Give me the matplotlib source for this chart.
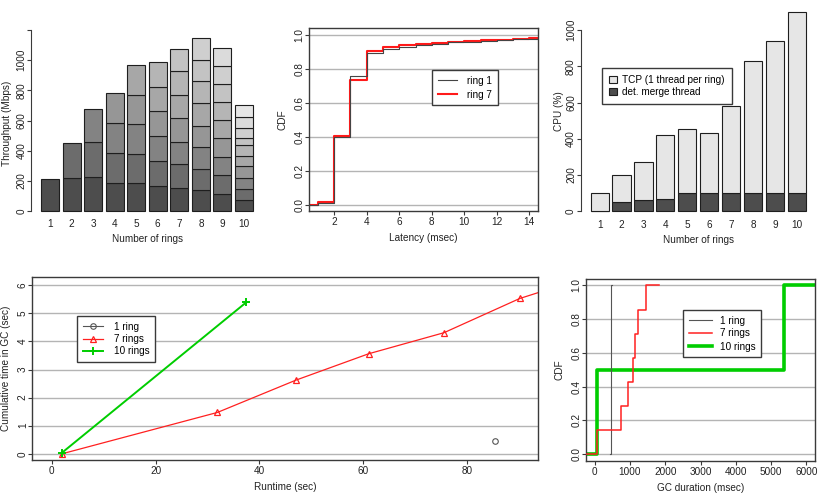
import matplotlib
matplotlib.use('Agg')
import matplotlib.pyplot as plt
from matplotlib.lines import Line2D
from matplotlib.patches import Patch
import numpy as np

plt.rcParams['font.family'] = ['Liberation Sans', 'DejaVu Sans']
plt.rcParams['font.size'] = 7.2

# ---------------- data ----------------
rings = [1, 2, 3, 4, 5, 6, 7, 8, 9, 10]
ring_labels = [str(r) for r in rings]

# throughput (Mbps) contributed by each ring, stacked bottom-up
throughput_per_ring = [
    [214],
    [222, 228],
    [229, 232, 214],
    [187, 201, 194, 203],
    [189, 192, 195, 196, 194],
    [167, 164, 167, 164, 163, 165],
    [154, 157, 146, 159, 152, 158, 148],
    [139, 141, 142, 145, 149, 143, 143, 144],
    [117, 121, 123, 122, 120, 120, 119, 122, 115],
    [72, 74, 72, 79, 70, 70, 46, 71, 70, 78],
]
segment_colors = ['#4D4D4D', '#6C6C6C', '#838383', '#969696', '#A7A7A7',
                  '#B5B5B5', '#C3C3C3', '#CFCFCF', '#DBDBDB', '#E6E6E6']

# latency CDF
latency_ms = [1, 2, 3, 4, 5, 6, 7, 8, 9, 10, 11, 12, 13, 14]
cdf_ring1 = [0.010, 0.395, 0.760, 0.890, 0.918, 0.930, 0.940, 0.948,
             0.955, 0.960, 0.966, 0.971, 0.975, 0.978]
cdf_ring7 = [0.013, 0.405, 0.735, 0.906, 0.929, 0.940, 0.946, 0.952,
             0.957, 0.962, 0.967, 0.972, 0.976, 0.979]

# CPU usage (%)
cpu_merge = [0, 50, 61, 70, 99, 100, 100, 100, 100, 100]
cpu_tcp = [103, 150, 213, 353, 357, 334, 479, 731, 837, 997]

# cumulative GC time vs runtime
gc1_runtime = [85.3]
gc1_cum = [0.46]
gc7_runtime = [2.05, 31.9, 47.0, 61.0, 75.5, 90.1, 108.6]
gc7_cum = [0.0, 1.47, 2.62, 3.56, 4.31, 5.53, 6.62]
gc10_runtime = [1.92, 37.5]
gc10_cum = [0.025, 5.40]

# GC durations (msec)
gcdur_1 = [463]
gcdur_7 = [57, 746, 935, 1087, 1143, 1219, 1465]
gcdur_10 = [57, 5377]

# ---------------- layout ----------------
W, H = 830, 498
fig = plt.figure(figsize=(W / 100, H / 100), dpi=100)


def add_axes_px(x0, y0, x1, y1):
    ax = fig.add_axes([x0 / W, 1 - y1 / H, (x1 - x0) / W, (y1 - y0) / H])
    ax._wpx = x1 - x0
    return ax


BOX = '#3a3a3a'
GRID = '#b4b4b4'
TXT = '#222222'


def style_ticks(ax):
    ax.tick_params(direction='out', length=2.9, width=0.8, color=BOX,
                   labelcolor=TXT, pad=1.5)
    ax.tick_params(axis='y', pad=0.3)
    for lab in ax.get_yticklabels():
        lab.set_rotation(90)
        lab.set_va('center')


def ylabel(ax, text, off_px):
    ax.set_ylabel(text, color=TXT)
    ax.yaxis.set_label_coords(-off_px / ax._wpx, 0.5)
    ax.yaxis.label.set_va('center')


def box(ax):
    for s in ax.spines.values():
        s.set_color(BOX)
        s.set_linewidth(1.0)


def legend(ax, handles, labels, x_px, y_px, **kw):
    leg = ax.legend(handles, labels, loc='upper left',
                    bbox_to_anchor=(x_px / W, 1 - y_px / H),
                    bbox_transform=fig.transFigure, frameon=True,
                    fancybox=False, edgecolor=BOX, framealpha=1,
                    borderaxespad=0, fontsize=7.2, **kw)
    leg.get_frame().set_linewidth(1.0)
    return leg


centers = np.arange(len(rings)) * 1.2 + 0.7

# ---- panel 1: throughput stacked bars ----
ax1 = add_axes_px(32.5, 29.2, 261.5, 218.2)
for i, segs in enumerate(throughput_per_ring):
    bottom = 0
    for k, v in enumerate(segs):
        ax1.bar(centers[i], v, width=1.0, bottom=bottom,
                color=segment_colors[k], edgecolor='#1e1e1e', linewidth=0.8)
        bottom += v
ax1.set_xlim(-0.272, 12.472)
ax1.set_ylim(-46, 1205)
ax1.set_yticks([0, 200, 400, 600, 800, 1000, 1200])
ax1.set_yticklabels(['0', '200', '400', '600', '800', '1000', ''])
ax1.set_xticks(centers)
ax1.set_xticklabels(ring_labels)
for s in ['top', 'right', 'bottom']:
    ax1.spines[s].set_visible(False)
ax1.spines['left'].set_bounds(0, 1200)
ax1.spines['left'].set_color(BOX)
ax1.spines['left'].set_position(('outward', 1))
style_ticks(ax1)
ax1.tick_params(axis='x', length=0, pad=0.5)
ax1.set_xlabel('Number of rings', labelpad=3.5, color=TXT)
ylabel(ax1, 'Throughput (Mbps)', 25.5)

# ---- panel 2: latency CDF ----
ax2 = add_axes_px(309, 28, 538, 211.3)
xl2 = (0.45, 14.53)
ax2.set_xlim(*xl2)
ax2.set_ylim(-0.04, 1.04)
for yv in [0, 0.2, 0.4, 0.6, 0.8, 1.0]:
    ax2.axhline(yv, color=GRID, lw=1.0, zorder=0)
ax2.step(np.r_[xl2[0], latency_ms, xl2[1]], np.r_[0, cdf_ring1, cdf_ring1[-1]],
         where='post', color='#444444', lw=0.8, zorder=3)
ax2.step(np.r_[xl2[0], latency_ms, xl2[1]], np.r_[0, cdf_ring7, cdf_ring7[-1]],
         where='post', color='#ff1a1a', lw=1.5, zorder=2)
ax2.set_xticks([2, 4, 6, 8, 10, 12, 14])
ax2.set_yticks([0, 0.2, 0.4, 0.6, 0.8, 1.0])
ax2.set_yticklabels(['0.0', '0.2', '0.4', '0.6', '0.8', '1.0'])
box(ax2)
style_ticks(ax2)
ax2.set_xlabel('Latency (msec)', labelpad=4, color=TXT)
ylabel(ax2, 'CDF', 27)
legend(ax2, [Line2D([], [], color='#444444', lw=0.8),
             Line2D([], [], color='#ff1a1a', lw=1.5)],
       ['ring 1', 'ring 7'], 432, 70, handlelength=1.9, handletextpad=1.0,
       labelspacing=0.35, borderpad=0.6)

# ---- panel 3: CPU ----
ax3 = add_axes_px(581.9, 3.9, 814.5, 219.3)
ax3.bar(centers, cpu_merge, width=1.0, color='#4D4D4D', edgecolor='#1e1e1e',
        linewidth=0.8)
ax3.bar(centers, cpu_tcp, width=1.0, bottom=cpu_merge, color='#E6E6E6',
        edgecolor='#1e1e1e', linewidth=0.8)
ax3.set_xlim(-0.272, 12.472)
ax3.set_ylim(-44, 1144)
ax3.set_yticks([0, 200, 400, 600, 800, 1000])
ax3.set_xticks(centers)
ax3.set_xticklabels(ring_labels)
for s in ['top', 'right', 'bottom']:
    ax3.spines[s].set_visible(False)
ax3.spines['left'].set_bounds(0, 1000)
ax3.spines['left'].set_color(BOX)
ax3.spines['left'].set_position(('outward', 1))
style_ticks(ax3)
ax3.tick_params(axis='x', length=0, pad=0.5)
ax3.set_xlabel('Number of rings', labelpad=3.5, color=TXT)
ylabel(ax3, 'CPU (%)', 23)
legend(ax3, [Patch(facecolor='#E6E6E6', edgecolor='#1e1e1e', lw=0.8),
             Patch(facecolor='#4D4D4D', edgecolor='#1e1e1e', lw=0.8)],
       ['TCP (1 thread per ring)', 'det. merge thread'], 602, 68,
       handlelength=0.75, handleheight=0.75, handletextpad=0.6,
       labelspacing=0.2, borderpad=0.7)

# ---- panel 4: cumulative GC time ----
ax4 = add_axes_px(32.3, 277.3, 538.3, 460.3)
ax4.set_xlim(-3.73, 93.67)
ax4.set_ylim(-0.235, 6.285)
for yv in range(7):
    ax4.axhline(yv, color=GRID, lw=1.0, zorder=0)
ax4.plot(gc1_runtime, gc1_cum, color='#555555', lw=0.8, marker='o', ms=4,
         mfc='none', mew=0.8)
ax4.plot(gc7_runtime, gc7_cum, color='#ff2020', lw=0.9, marker='^', ms=5,
         mfc='none', mew=0.9)
ax4.plot(gc10_runtime, gc10_cum, color='#00CD00', lw=1.4, marker='+', ms=6,
         mew=1.4)
ax4.set_xticks([0, 20, 40, 60, 80])
ax4.set_yticks(range(7))
box(ax4)
style_ticks(ax4)
ax4.set_xlabel('Runtime (sec)', labelpad=4, color=TXT)
ylabel(ax4, 'Cumulative time in GC (sec)', 26.3)
legend(ax4, [Line2D([], [], color='#555555', lw=0.8, marker='o', ms=4,
                    mfc='none', mew=0.8),
             Line2D([], [], color='#ff2020', lw=0.9, marker='^', ms=5,
                    mfc='none', mew=0.9),
             Line2D([], [], color='#00CD00', lw=1.4, marker='+', ms=6,
                    mew=1.4)],
       ['1 ring', '7 rings', '10 rings'], 77, 316, handlelength=2.0,
       handletextpad=1.1, labelspacing=0.25, borderpad=0.55)

# ---- panel 5: GC duration CDF ----
ax5 = add_axes_px(586, 278.7, 815, 461)
xl5 = (-247, 6247)
ax5.set_xlim(*xl5)
ax5.set_ylim(-0.04, 1.04)
for yv in [0, 0.2, 0.4, 0.6, 0.8, 1.0]:
    ax5.axhline(yv, color=GRID, lw=1.0, zorder=0)


def ecdf_line(ax, data, ext, **kw):
    d = np.sort(np.asarray(data, float))
    n = len(d)
    xs = np.r_[d[0] - ext, d, d[-1] + ext]
    ys = np.r_[0, np.arange(1, n + 1) / n, 1.0]
    ax.step(xs, ys, where='post', **kw)


ecdf_line(ax5, gcdur_1, 30, color='#555555', lw=0.8, zorder=3)
ecdf_line(ax5, gcdur_7, 349, color='#ff2020', lw=1.1, zorder=4)
ecdf_line(ax5, gcdur_10, 5320, color='#00CD00', lw=2.6, zorder=2)
ax5.set_xticks([0, 1000, 2000, 3000, 4000, 5000, 6000])
ax5.set_yticks([0, 0.2, 0.4, 0.6, 0.8, 1.0])
ax5.set_yticklabels(['0.0', '0.2', '0.4', '0.6', '0.8', '1.0'])
box(ax5)
style_ticks(ax5)
ax5.set_xlabel('GC duration (msec)', labelpad=4, color=TXT)
ylabel(ax5, 'CDF', 27)
legend(ax5, [Line2D([], [], color='#555555', lw=0.8),
             Line2D([], [], color='#ff2020', lw=1.1),
             Line2D([], [], color='#00CD00', lw=2.6)],
       ['1 ring', '7 rings', '10 rings'], 683, 310, handlelength=2.3,
       handletextpad=0.8, labelspacing=0.3, borderpad=0.55)

fig.savefig('out.png', dpi=100)
